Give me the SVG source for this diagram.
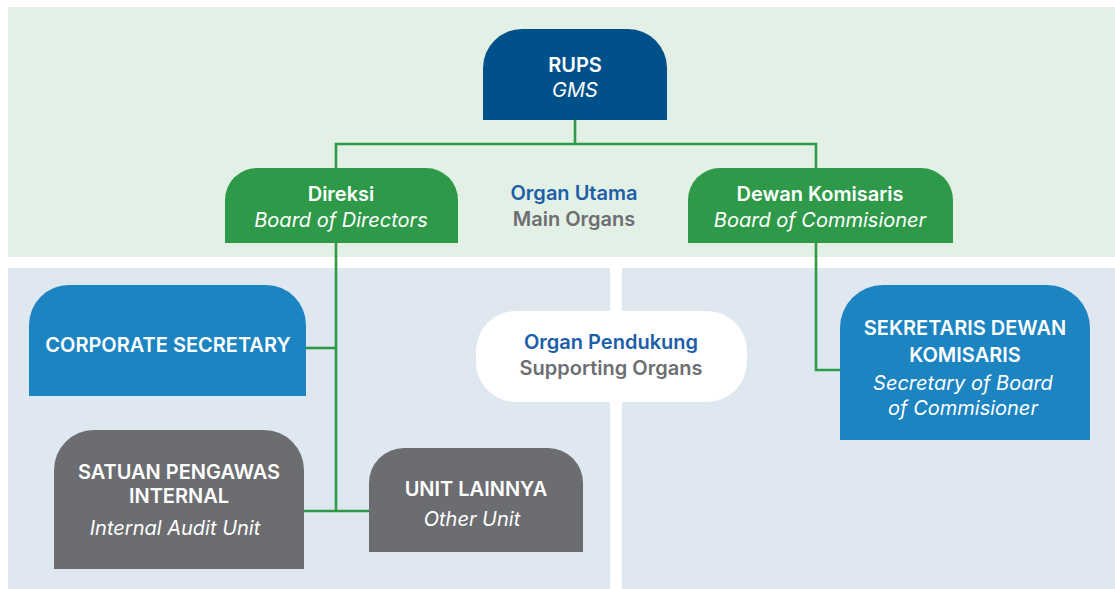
<svg xmlns="http://www.w3.org/2000/svg" width="1115" height="589" viewBox="0 0 1115 589">
  <style>
    .title { font-family: Inter, "Liberation Sans", sans-serif; font-weight: 600; font-size: 20px; fill: #ffffff; text-anchor: middle; }
    .sub { font-family: Inter, "Liberation Sans", sans-serif; font-style: italic; font-weight: 400; font-size: 20px; fill: #ffffff; text-anchor: middle; }
    .lbl-main { font-family: Inter, "Liberation Sans", sans-serif; font-weight: 600; font-size: 20px; fill: #1d5ea8; text-anchor: middle; }
    .lbl-sub { font-family: Inter, "Liberation Sans", sans-serif; font-weight: 600; font-size: 20px; fill: #6d6e71; text-anchor: middle; }
    .link { fill: none; stroke: #2e9a48; stroke-width: 2.6; }
    .navy { fill: #00518a; }
    .green { fill: #2e9a49; }
    .blue { fill: #1b84c1; }
    .grey { fill: #6c6d71; }
  </style>

  <!-- background bands -->
  <rect x="0" y="0" width="1115" height="589" fill="#ffffff"/>
  <rect x="8" y="7" width="1107" height="250" fill="#e3f0e6"/>
  <rect x="8" y="268" width="602" height="321" fill="#dfe7f1"/>
  <rect x="622" y="268" width="493" height="321" fill="#dfe7f1"/>

  <!-- connectors -->
  <g id="connectors">
    <polyline class="link" points="575,120 575,144"/>
    <polyline class="link" points="336,168 336,144 816,144 816,168"/>
    <polyline class="link" points="336,243 336,511"/>
    <polyline class="link" points="306,348 336,348"/>
    <polyline class="link" points="304,511 369,511"/>
    <polyline class="link" points="816,243 816,370 840,370"/>
  </g>

  <!-- main organs label -->
  <g id="label-main">
    <text class="lbl-main" x="574" y="200">Organ Utama</text>
    <text class="lbl-sub" x="574" y="226">Main Organs</text>
  </g>

  <g id="rups">
    <path class="navy" d="M483,120 V68 A39,39 0 0 1 522,29 H628 A39,39 0 0 1 667,68 V120 Z"/>
    <text class="title" x="575" y="72">RUPS</text>
    <text class="sub" x="575" y="97">GMS</text>
  </g>

  <g id="direksi">
    <path class="green" d="M225,243 V200 A32,32 0 0 1 257,168 H426 A32,32 0 0 1 458,200 V243 Z"/>
    <text class="title" x="341" y="201">Direksi</text>
    <text class="sub" x="341" y="227">Board of Directors</text>
  </g>

  <g id="dewan-komisaris">
    <path class="green" d="M688,243 V200 A32,32 0 0 1 720,168 H921 A32,32 0 0 1 953,200 V243 Z"/>
    <text class="title" x="820" y="201">Dewan Komisaris</text>
    <text class="sub" x="820" y="227">Board of Commisioner</text>
  </g>

  <g id="label-support">
    <rect x="476" y="311" width="271" height="91" rx="40" ry="40" fill="#ffffff"/>
    <text class="lbl-main" x="611" y="349">Organ Pendukung</text>
    <text class="lbl-sub" x="611" y="375">Supporting Organs</text>
  </g>

  <g id="corporate-secretary">
    <path class="blue" d="M29,396 V325 A40,40 0 0 1 69,285 H266 A40,40 0 0 1 306,325 V396 Z"/>
    <text class="title" x="168" y="352">CORPORATE SECRETARY</text>
  </g>

  <g id="sekretaris-dewan">
    <path class="blue" d="M840,440 V328 A43,43 0 0 1 883,285 H1047 A43,43 0 0 1 1090,328 V440 Z"/>
    <text class="title" x="965" y="335">SEKRETARIS DEWAN</text>
    <text class="title" x="965" y="362">KOMISARIS</text>
    <text class="sub" x="963" y="390">Secretary of Board</text>
    <text class="sub" x="963" y="415">of Commisioner</text>
  </g>

  <g id="satuan-pengawas">
    <path class="grey" d="M54,569 V470 A40,40 0 0 1 94,430 H264 A40,40 0 0 1 304,470 V569 Z"/>
    <text class="title" x="179" y="479">SATUAN PENGAWAS</text>
    <text class="title" x="179" y="503">INTERNAL</text>
    <text class="sub" x="175" y="535">Internal Audit Unit</text>
  </g>

  <g id="unit-lainnya">
    <path class="grey" d="M369,552 V483 A35,35 0 0 1 404,448 H548 A35,35 0 0 1 583,483 V552 Z"/>
    <text class="title" x="476" y="496">UNIT LAINNYA</text>
    <text class="sub" x="472" y="526">Other Unit</text>
  </g>
</svg>
